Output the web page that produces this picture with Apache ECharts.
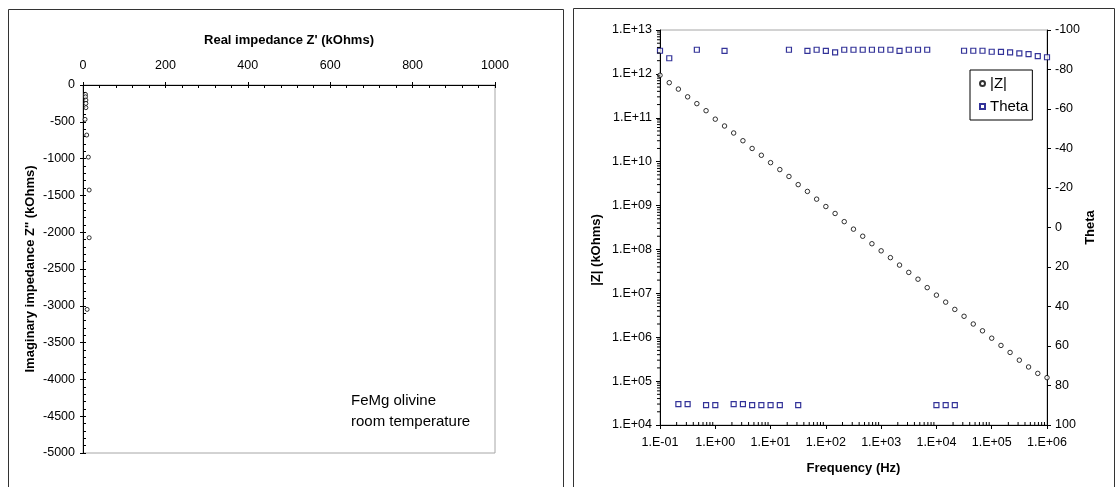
<!DOCTYPE html>
<html>
<head>
<meta charset="utf-8">
<script src="https://cdn.jsdelivr.net/npm/echarts@6/dist/echarts.min.js"></script>
<style>
html,body{margin:0;padding:0;background:#fff;}
#c{width:1118px;height:487px;}
</style>
</head>
<body>
<div id="c"></div>
<script>
// ---- Nyquist (left) data ----
const nyqReal = [6, 6, 7, 7, 7, 5, 9, 13, 15, 15, 10];
const nyqImag = [-128, -160, -205, -250, -308, -467, -680, -980, -1427, -2075, -3049];

// ---- Bode (right) data ----
const freq = [0.1,0.147,0.215,0.316,0.464,0.681,
  1,1.47,2.15,3.16,4.64,6.81,
  10,14.7,21.5,31.6,46.4,68.1,
  100,147,215,316,464,681,
  1000,1470,2150,3160,4640,6810,
  10000,14700,21500,31600,46400,68100,
  100000,147000,215000,316000,464000,681000,
  1000000];
const zMod = [9.3e11,6.3e11,4.5e11,3.0e11,2.1e11,1.45e11,
  9.3e10,6.5e10,4.5e10,3.0e10,2.0e10,1.4e10,
  9.5e9,6.6e9,4.6e9,3.0e9,2.1e9,1.4e9,
  9.5e8,6.6e8,4.3e8,2.9e8,2.0e8,1.35e8,
  9.3e7,6.5e7,4.4e7,3.0e7,2.1e7,1.35e7,
  9.1e6,6.3e6,4.3e6,3.0e6,2.0e6,1.4e6,
  9.5e5,6.5e5,4.5e5,3.0e5,2.1e5,1.5e5,
  1.2e5];
const theta = [-89.5,-85.7,89.4,89.4,-90.0,89.9,
  89.9,-89.4,89.4,89.4,89.9,89.9,
  89.9,89.9,-90.0,89.9,-89.4,-90.0,
  -89.4,-88.7,-90.0,-90.0,-90.0,-90.0,
  -90.0,-90.0,-89.4,-90.0,-90.0,-90.0,
  89.9,89.9,89.9,-89.5,-89.5,-89.5,
  -89.0,-88.9,-88.7,-88.2,-87.8,-86.8,
  -86.2];

// ---- axis ticks ----
const reTicks = [0, 200, 400, 600, 800, 1000];
const imTicks = [0, -500, -1000, -1500, -2000, -2500, -3000, -3500, -4000, -4500, -5000];
const thetaTicks = [-100, -80, -60, -40, -20, 0, 20, 40, 60, 80, 100];
const legendNames = ['|Z|', 'Theta'];

// log-axis minor tick values (2..9 per decade)
const xMinor = [], yMinor = [];
for (let e = -1; e <= 5; e++) for (let m = 2; m <= 9; m++) xMinor.push([m * Math.pow(10, e), 1e4]);
for (let e = 4; e <= 12; e++) for (let m = 2; m <= 9; m++) yMinor.push([0.1, m * Math.pow(10, e)]);

const FONT = 'Liberation Sans, Arial, sans-serif';
const lbl = {color:'#000', fontSize:12.5, fontFamily:FONT};
const nameStyle = {color:'#000', fontSize:13, fontWeight:'bold', fontFamily:FONT};
const expLabel = v => {
  const e = Math.round(Math.log10(v));
  const a = Math.abs(e);
  return '1.E' + (e < 0 ? '-' : '+') + (a < 10 ? '0' + a : a);
};

const chart = echarts.init(document.getElementById('c'), null, {renderer:'canvas'});
chart.setOption({
  backgroundColor:'#fff',
  animation:false,
  textStyle:{fontFamily:FONT},
  grid:[
    {left:83, top:85, width:412, height:368, show:true, borderColor:'#a6a6a6', borderWidth:1, backgroundColor:'transparent'},
    {left:660, top:30, width:387, height:395, show:true, borderColor:'#a6a6a6', borderWidth:1, backgroundColor:'transparent'}
  ],
  legend:{
    data:legendNames,
    orient:'vertical',
    left:970, top:70,
    backgroundColor:'#fff',
    borderColor:'#000', borderWidth:1,
    padding:[6,4,6,9],
    itemWidth:5, itemHeight:5, itemGap:8,
    textStyle:{color:'#000', fontSize:15, fontFamily:FONT},
    selectedMode:false
  },
  xAxis:[
    {gridIndex:0, type:'value', position:'top', min:0, max:1000, interval:200,
     name:"Real impedance Z' (kOhms)", nameLocation:'middle', nameGap:38, nameTextStyle:nameStyle,
     axisLine:{show:true, onZero:false, lineStyle:{color:'#000', width:1}},
     axisTick:{show:true, inside:false, length:3, lineStyle:{color:'#000'}},
     axisLabel:{...lbl, margin:13, formatter:v => String(v)},
     splitLine:{show:false}},
    {gridIndex:0, type:'value', position:'top', min:0, max:1000, interval:200,
     axisLine:{show:false}, axisLabel:{show:false},
     axisTick:{show:true, inside:true, length:3, lineStyle:{color:'#000'}},
     minorTick:{show:true, splitNumber:5, length:3, lineStyle:{color:'#000'}},
     splitLine:{show:false}},
    {gridIndex:1, type:'log', logBase:10, min:0.1, max:1e6, splitNumber:7, position:'bottom',
     name:'Frequency (Hz)', nameLocation:'middle', nameGap:37, nameTextStyle:nameStyle,
     axisLine:{show:true, onZero:false, lineStyle:{color:'#000', width:1}},
     axisTick:{show:true, inside:false, length:4, lineStyle:{color:'#000'}},
     axisLabel:{...lbl, margin:11, formatter:expLabel},
     splitLine:{show:false}}
  ],
  yAxis:[
    {gridIndex:0, type:'value', min:-5000, max:0, interval:500, position:'left',
     name:"Imaginary impedance Z'' (kOhms)", nameLocation:'middle', nameGap:46, nameTextStyle:nameStyle,
     axisLine:{show:true, onZero:false, lineStyle:{color:'#000', width:1}},
     axisTick:{show:true, inside:false, length:3, lineStyle:{color:'#000'}},
     axisLabel:{...lbl, margin:8, formatter:v => String(v)},
     splitLine:{show:false}},
    {gridIndex:0, type:'value', min:-5000, max:0, interval:500, position:'left',
     axisLine:{show:false}, axisLabel:{show:false},
     axisTick:{show:true, inside:true, length:3, lineStyle:{color:'#000'}},
     minorTick:{show:true, splitNumber:5, length:3, lineStyle:{color:'#000'}},
     splitLine:{show:false}},
    {gridIndex:1, type:'log', logBase:10, min:1e4, max:1e13, splitNumber:9, position:'left',
     axisLine:{show:true, onZero:false, lineStyle:{color:'#000', width:1}},
     axisTick:{show:true, inside:false, length:4, lineStyle:{color:'#000'}},
     axisLabel:{...lbl, margin:8, formatter:expLabel},
     splitLine:{show:false}},
    {gridIndex:1, type:'value', min:-100, max:100, interval:20, inverse:true, position:'right',
     name:'Theta', nameLocation:'middle', nameGap:27, nameRotate:90, nameTextStyle:nameStyle,
     axisLine:{show:true, onZero:false, lineStyle:{color:'#000', width:1}},
     axisTick:{show:true, inside:false, length:4, lineStyle:{color:'#000'}},
     axisLabel:{...lbl, margin:8, formatter:v => String(v)},
     splitLine:{show:false}}
  ],
  series:[
    {type:'scatter', name:'nyquist', xAxisIndex:0, yAxisIndex:0,
     data: nyqReal.map((r, i) => [r, nyqImag[i]]),
     symbol:'circle', symbolSize:4,
     itemStyle:{color:'#fff', borderColor:'#000', borderWidth:1}},
    {type:'custom', name:'xminor', xAxisIndex:2, yAxisIndex:2, silent:true, z:3,
     data:xMinor,
     renderItem:(p, api) => {
       const c = api.coord([api.value(0), api.value(1)]);
       return {type:'line', shape:{x1:c[0], y1:c[1], x2:c[0], y2:c[1]-3}, style:{stroke:'#000', lineWidth:1}};
     }},
    {type:'custom', name:'yminor', xAxisIndex:2, yAxisIndex:2, silent:true, z:3,
     data:yMinor,
     renderItem:(p, api) => {
       const c = api.coord([api.value(0), api.value(1)]);
       return {type:'line', shape:{x1:c[0], y1:c[1], x2:c[0]-3, y2:c[1]}, style:{stroke:'#000', lineWidth:1}};
     }},
    {type:'scatter', name:'|Z|', xAxisIndex:2, yAxisIndex:2,
     data: freq.map((f, i) => [f, zMod[i]]),
     symbol:'circle', symbolSize:4.5,
     itemStyle:{color:'#fff', borderColor:'#000', borderWidth:1}},
    {type:'scatter', name:'Theta', xAxisIndex:2, yAxisIndex:3,
     data: freq.map((f, i) => [f, theta[i]]),
     symbol:'rect', symbolSize:5,
     itemStyle:{color:'#fff', borderColor:'#000080', borderWidth:1.2}}
  ],
  graphic:[
    {type:'rect', shape:{x:8.5, y:9.5, width:555, height:500}, style:{fill:'none', stroke:'#333', lineWidth:1}, silent:true},
    {type:'rect', shape:{x:573.5, y:8.5, width:541, height:500}, style:{fill:'none', stroke:'#333', lineWidth:1}, silent:true},
    {type:'text', left:351, top:390, silent:true,
     style:{text:'FeMg olivine\nroom temperature', fill:'#000', font:'15px Liberation Sans, Arial, sans-serif', lineHeight:21}},
    {type:'text', x:596, y:250, rotation:Math.PI/2, silent:true,
     style:{text:'|Z| (kOhms)', fill:'#000', font:'bold 13px Liberation Sans, Arial, sans-serif', align:'center', verticalAlign:'middle'}}
  ]
});
</script>
</body>
</html>
